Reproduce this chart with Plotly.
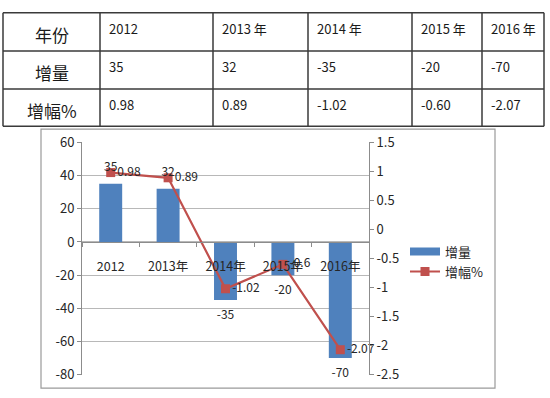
import plotly.graph_objects as go

# ---------------- data ----------------
categories = ["2012", "2013年", "2014年", "2015年", "2016年"]
increase = [35, 32, -35, -20, -70]
growth_pct = [0.98, 0.89, -1.02, -0.60, -2.07]
growth_labels = ["0.98", "0.89", "-1.02", "-0.6", "-2.07"]

table_row_heads = ["年份", "增量", "增幅%"]
table_years = ["2012", "2013 年", "2014 年", "2015 年", "2016 年"]
table_increase = ["35", "32", "-35", "-20", "-70"]
table_growth = ["0.98", "0.89", "-1.02", "-0.60", "-2.07"]

y1_ticks = [60, 40, 20, 0, -20, -40, -60, -80]
y2_ticks = [1.5, 1, 0.5, 0, -0.5, -1, -1.5, -2, -2.5]

# ---------------- layout helpers ----------------
W, H = 550, 398
def px(x):
    return x / W
def py(y):
    return 1 - y / H

FONT = "Noto Sans CJK SC, Noto Sans, DejaVu Sans, sans-serif"
BLUE = "#4F81BD"
RED = "#C0504D"
TXT = "#262626"

# plot area (pixels)
PL, PR, PT, PB = 82, 369, 139, 383
ydom = [py(PB), py(PT)]
y1min, y1max = -80, 60
zero_pos = ydom[0] + (0 - y1min) / (y1max - y1min) * (ydom[1] - ydom[0])

fig = go.Figure()

# bars (legend handled by a swatch trace below)
fig.add_trace(go.Bar(
    x=categories, y=increase, name="增量",
    marker=dict(color=BLUE, line=dict(width=0)),
    showlegend=False, yaxis="y", xaxis="x",
))

# legend swatch for bars (wide flat rectangle like the original)
fig.add_trace(go.Scatter(
    x=[None], y=[None], name="增量", mode="lines",
    line=dict(color=BLUE, width=8), yaxis="y", xaxis="x",
))

fig.add_trace(go.Scatter(
    x=categories, y=growth_pct, name="增幅%",
    mode="lines+markers+text",
    line=dict(color=RED, width=2.2),
    marker=dict(symbol="square", size=9, color=RED),
    text=growth_labels, textposition="middle right",
    textfont=dict(size=12, color=TXT, family=FONT),
    cliponaxis=False, yaxis="y2", xaxis="x",
))

# bar value labels, drawn on top of everything (invisible marker gives the offset)
fig.add_trace(go.Scatter(
    x=categories, y=increase, mode="markers+text",
    marker=dict(size=14, opacity=0),
    text=[str(v) for v in increase],
    textposition=["top center" if v >= 0 else "bottom center" for v in increase],
    textfont=dict(size=12, color=TXT, family=FONT),
    showlegend=False, cliponaxis=False, hoverinfo="skip",
    yaxis="y3", xaxis="x",
))

shapes = []
annotations = []

# ---------- table ----------
col_x = [3, 100, 213, 308, 412, 482, 544]
row_y = [3, 43, 83, 122]
TLINE = dict(color="#3a3a3a", width=1.5)
for x in col_x:
    shapes.append(dict(type="line", xref="paper", yref="paper",
                       x0=px(x), x1=px(x), y0=py(row_y[0]), y1=py(row_y[-1]), line=TLINE))
for y in row_y:
    shapes.append(dict(type="line", xref="paper", yref="paper",
                       x0=px(col_x[0]), x1=px(col_x[-1]), y0=py(y), y1=py(y), line=TLINE))

rows = [table_years, table_increase, table_growth]
for r, head in enumerate(table_row_heads):
    annotations.append(dict(
        text=head, xref="paper", yref="paper",
        x=px((col_x[0] + col_x[1]) / 2), y=py((row_y[r] + row_y[r + 1]) / 2 + 3),
        xanchor="center", yanchor="middle", showarrow=False,
        font=dict(size=17, color="#1a1a1a", family=FONT)))
    for c, val in enumerate(rows[r]):
        annotations.append(dict(
            text=val, xref="paper", yref="paper",
            x=px(col_x[c + 1] + 7), y=py(row_y[r] + 4),
            xanchor="left", yanchor="top", showarrow=False,
            font=dict(size=13, color="#1a1a1a", family=FONT)))

# ---------- chart border ----------
shapes.append(dict(type="rect", xref="paper", yref="paper",
                   x0=px(41), x1=px(495), y0=py(397), y1=py(125),
                   line=dict(color="#9a9a9a", width=1.2), layer="below"))

fig.update_layout(
    width=W, height=H,
    margin=dict(l=0, r=0, t=0, b=0),
    paper_bgcolor="white", plot_bgcolor="white",
    font=dict(family=FONT, size=12, color=TXT),
    bargap=0.6,
    showlegend=True,
    legend=dict(x=px(405), y=py(238), xanchor="left", yanchor="top",
                font=dict(size=13, family=FONT, color=TXT),
                bgcolor="rgba(0,0,0,0)", itemwidth=30, tracegroupgap=4),
    xaxis=dict(
        domain=[px(PL), px(PR)],
        anchor="free", position=zero_pos,
        showgrid=False, showline=True, linecolor="#8c8c8c", linewidth=1,
        ticks="outside", ticklen=4, tickcolor="#8c8c8c", tickson="boundaries",
        ticklabelstandoff=13,
        tickfont=dict(size=12.5, family=FONT, color=TXT),
        zeroline=False, fixedrange=True,
    ),
    yaxis=dict(
        domain=ydom, range=[y1min, y1max],
        tickvals=y1_ticks, ticktext=[str(v) for v in y1_ticks],
        showgrid=True, gridcolor="#b8b8b8", gridwidth=1,
        showline=True, linecolor="#8c8c8c", linewidth=1,
        ticks="outside", ticklen=4, tickcolor="#8c8c8c",
        zeroline=False,
        tickfont=dict(size=13, family=FONT, color=TXT),
        anchor="x",
    ),
    yaxis2=dict(
        domain=ydom, range=[-2.5, 1.5], overlaying="y", side="right",
        tickvals=y2_ticks, ticktext=[("%g" % v) for v in y2_ticks],
        showgrid=False, showline=True, linecolor="#8c8c8c", linewidth=1,
        ticks="outside", ticklen=4, tickcolor="#8c8c8c",
        zeroline=False,
        tickfont=dict(size=13, family=FONT, color=TXT),
        anchor="x",
    ),
    yaxis3=dict(
        domain=ydom, range=[y1min, y1max], overlaying="y",
        visible=False, showgrid=False, zeroline=False, anchor="x",
    ),
    shapes=shapes,
    annotations=annotations,
)

fig.write_html("out.html", config={"displayModeBar": False},
               post_script="document.body.style.margin='0';document.body.style.overflow='hidden';")
